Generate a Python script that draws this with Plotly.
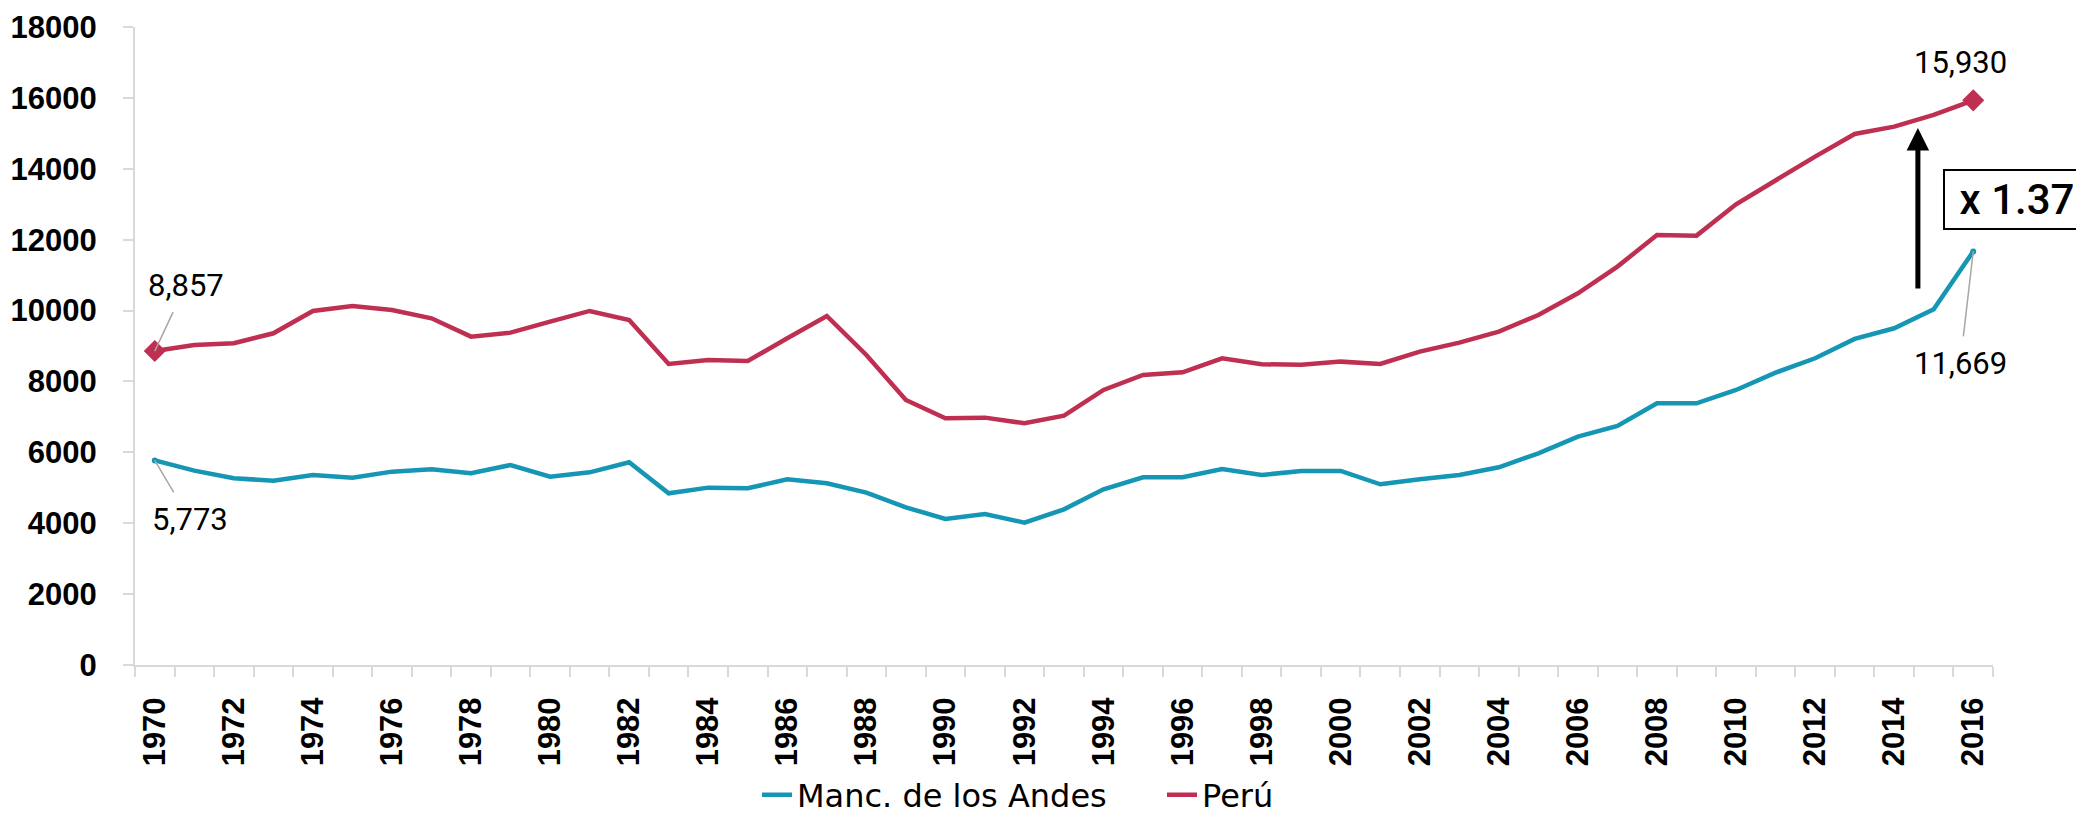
import plotly.graph_objects as go

years = list(range(1970, 2017))
manc_andes = [5773, 5484, 5267, 5201, 5361, 5286, 5455, 5521, 5408, 5643,
              5314, 5436, 5719, 4844, 5004, 4985, 5239, 5126, 4863, 4449,
              4120, 4261, 4016, 4392, 4957, 5295, 5295, 5530, 5361, 5474,
              5474, 5098, 5239, 5361, 5577, 5972, 6443, 6744, 7383, 7383,
              7760, 8249, 8653, 9199, 9500, 10036, 11669]
peru = [8857, 9029, 9077, 9359, 9989, 10130, 10017, 9782, 9264, 9377,
        9688, 9989, 9735, 8493, 8606, 8578, 9217, 9848, 8747, 7477,
        6960, 6979, 6819, 7035, 7760, 8183, 8258, 8653, 8484, 8474,
        8559, 8493, 8842, 9096, 9406, 9876, 10487, 11240, 12133, 12114,
        12999, 13685, 14344, 14983, 15190, 15519, 15930]
series_names = ["Manc. de los Andes", "Perú"]
x_tick_vals = list(range(1970, 2017, 2))
x_tick_text = [str(v) for v in x_tick_vals]
y_tick_vals = list(range(0, 18001, 2000))
y_tick_text = [str(v) for v in y_tick_vals]
ratio_label = "x 1.37"

BLUE = "#1496B4"
RED = "#BE2F52"
GRAY = "#D9D9D9"

# page body has an 8px margin: figure is sized/offset to compensate
W, H = 2076, 807
L, T = 127, 19
PW, PH = 1858, 638

fig = go.Figure()
fig.add_trace(go.Scatter(x=years, y=manc_andes, mode="lines", name=series_names[0],
                         line=dict(color=BLUE, width=4.5)))
fig.add_trace(go.Scatter(x=years, y=peru, mode="lines", name=series_names[1],
                         line=dict(color=RED, width=4.5)))
# end markers
fig.add_trace(go.Scatter(x=[years[0], years[-1]], y=[peru[0], peru[-1]], mode="markers",
                         marker=dict(symbol="diamond", size=17, color=RED),
                         showlegend=False, hoverinfo="skip"))
fig.add_trace(go.Scatter(x=[years[0], years[-1]], y=[manc_andes[0], manc_andes[-1]], mode="markers",
                         marker=dict(symbol="circle", size=6, color=BLUE),
                         showlegend=False, hoverinfo="skip"))

lab_font = dict(family="Roboto", size=31, color="black")
fig.add_annotation(x=years[0], y=peru[0], text=f"{peru[0]:,}", showarrow=True,
                   arrowhead=0, arrowwidth=1.5, arrowcolor="#A6A6A6", ax=31, ay=-66,
                   borderpad=8, font=lab_font)
fig.add_annotation(x=years[0], y=manc_andes[0], text=f"{manc_andes[0]:,}", showarrow=True,
                   arrowhead=0, arrowwidth=1.5, arrowcolor="#A6A6A6", ax=35, ay=59,
                   borderpad=8, font=lab_font)
fig.add_annotation(x=years[-1], y=peru[-1], text=f"{peru[-1]:,}", showarrow=False,
                   xshift=-13, yshift=38, font=lab_font)
fig.add_annotation(x=years[-1], y=manc_andes[-1], text=f"{manc_andes[-1]:,}", showarrow=True,
                   arrowhead=0, arrowwidth=1.5, arrowcolor="#A6A6A6", ax=-13, ay=112,
                   borderpad=8, font=lab_font)
# growth arrow
fig.add_annotation(x=2014.6, y=15152, ax=2014.6, ay=10581, axref="x", ayref="y",
                   text="", showarrow=True, arrowhead=2, arrowsize=0.9, arrowwidth=5,
                   arrowcolor="black")
# ratio box
fig.add_annotation(xref="paper", yref="paper", x=(1943 - 135) / PW, y=(665 - 199.5) / PH,
                   xanchor="left", yanchor="middle", text=ratio_label, showarrow=False,
                   font=dict(family="Roboto", size=42, color="black", weight=500),
                   bordercolor="black", borderwidth=2, borderpad=4, bgcolor="white",
                   width=136, align="center")

fig.update_layout(
    width=W, height=H,
    margin=dict(l=L, r=W - L - PW, t=T, b=H - T - PH, autoexpand=False),
    paper_bgcolor="white", plot_bgcolor="white",
    showlegend=True,
    legend=dict(orientation="h", x=(757 - 135) / PW, xanchor="left",
                y=-(795 - 665) / PH, yanchor="middle",
                font=dict(family="DejaVu Sans", size=32, color="black"),
                itemwidth=30, entrywidth=360, tracegroupgap=0),
)
fig.update_xaxes(
    range=[1969.5, 2016.5], tickmode="array", tickvals=x_tick_vals, ticktext=x_tick_text,
    tickangle=-90, ticks="", showgrid=False, zeroline=False, automargin=False,
    showline=True, linecolor=GRAY, linewidth=2,
    tickfont=dict(family="Liberation Sans", size=31, color="black", weight="bold"),
    ticklabelstandoff=18,
    minor=dict(tick0=1969.5, dtick=1, ticks="outside", ticklen=10, tickcolor=GRAY, tickwidth=2,
               showgrid=False),
)
fig.update_yaxes(
    range=[0, 18000], tickmode="array", tickvals=y_tick_vals, ticktext=y_tick_text,
    ticks="outside", ticklen=10, tickcolor=GRAY, tickwidth=2, automargin=False,
    showgrid=False, zeroline=False, showline=True, linecolor=GRAY, linewidth=2,
    tickfont=dict(family="Liberation Sans", size=31, color="black", weight="bold"),
    ticklabelstandoff=20,
)

fig.write_html("out.html")
